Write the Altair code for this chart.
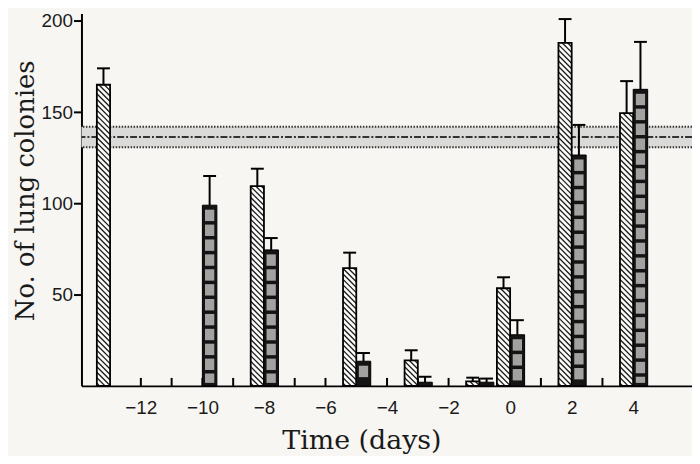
import altair as alt
import pandas as pd

# ---------------- data ----------------
days_a = [-13, -8, -5, -3, -1, 0, 2, 4]           # hatched bars
vals_a = [165, 109.5, 64.5, 14, 2.5, 53.5, 188, 149.5]
errtop_a = [174, 119, 73, 19.5, 4.5, 59.5, 201, 167]

days_b = [-10, -8, -5, -3, -1, 0, 2, 4]           # dark checkered bars
vals_b = [99, 74.5, 13.5, 2, 2, 28, 126.5, 162.5]
errtop_b = [115, 81, 18, 5, 4, 36, 143, 188.5]

band_lower, band_mean, band_upper = 130.7, 136.4, 142.0

x_tick_labels = [-12, -10, -8, -6, -4, -2, 0, 2, 4]
x_minor_ticks = list(range(-12, 5))
y_tick_labels = [50, 100, 150, 200]

# ---------------- layout ----------------
X_MIN, X_MAX = -13.93, 5.91
Y_MAX = 204
W, H = 615, 375
PPD = W / (X_MAX - X_MIN)   # px per day
PPU = H / Y_MAX             # px per unit
A_W, B_W = 0.43, 0.47

NARROW = "Liberation Sans Narrow, Arial Narrow, Liberation Sans, sans-serif"
SERIF = "DejaVu Serif, serif"

xs = alt.Scale(domain=[X_MIN, X_MAX], nice=False, zero=False)
ys = alt.Scale(domain=[0, Y_MAX], nice=False)

# bar tables
bars_a = pd.DataFrame({"x0": [d - A_W for d in days_a], "x1": days_a,
                       "v": vals_a, "e": errtop_a})
bars_b = pd.DataFrame({"x0": days_b, "x1": [d + B_W for d in days_b],
                       "v": vals_b, "e": errtop_b})
err = pd.concat([bars_a, bars_b], ignore_index=True)
err["xc"] = (err["x0"] + err["x1"]) / 2
err["cl"] = err["xc"] - 6.5 / PPD
err["cr"] = err["xc"] + 6.5 / PPD

# hatch lines for the hatched bars
hrows = []
step = 5.5
for x0, x1, v in zip(bars_a["x0"], bars_a["x1"], bars_a["v"]):
    w = (x1 - x0) * PPD
    h = v * PPU
    c = step / 2
    while c < h + w:
        s = max(0.0, c - h)
        e = min(w, c)
        if e > s:
            hrows.append({"hx0": x0 + s / PPD, "hy0": (c - s) / PPU,
                          "hx1": x0 + e / PPD, "hy1": (c - e) / PPU})
        c += step
hatch = pd.DataFrame(hrows)

# gray tiles for the checkered bars
trows = []
for x0, x1, v in zip(bars_b["x0"], bars_b["x1"], bars_b["v"]):
    h = v * PPU
    t = h - 4.5
    while t > 6:
        b = max(3.0, t - 11.5)
        trows.append({"tx0": x0 + 2.6 / PPD, "tx1": x1 - 2.6 / PPD,
                      "ty0": b / PPU, "ty1": t / PPU})
        t -= 15
tiles = pd.DataFrame(trows)

band = pd.DataFrame({"bx0": [X_MIN], "bx1": [X_MAX],
                     "lo": [band_lower], "hi": [band_upper]})
band_lines = pd.DataFrame({"lv": [band_lower, band_upper, band_mean],
                           "kind": ["dot", "dot", "mid"]})
ticks = pd.DataFrame({"t": x_minor_ticks})
ticks["t0"] = 0.0
ticks["t1"] = 8 / PPU

x_axis = alt.Axis(values=x_tick_labels, title="Time (days)", ticks=False,
                  grid=False, domainColor="black", domainWidth=2,
                  labelFont=NARROW, labelFontSize=19, labelColor="#1a1a1a",
                  labelPadding=13, labelFlush=False,
                  titleFont=SERIF, titleFontSize=27, titleFontWeight="normal",
                  titleColor="#1a1a1a", titleX=282, titleY=63,
                  titleBaseline="alphabetic", titleAlign="center")
y_axis = alt.Axis(values=y_tick_labels, title="No. of lung colonies",
                  grid=False, domainColor="black", domainWidth=2,
                  tickColor="black", tickWidth=2, tickSize=8,
                  labelFont=NARROW, labelFontSize=19, labelColor="#1a1a1a",
                  labelPadding=1,
                  titleFont=SERIF, titleFontSize=26, titleFontWeight="normal",
                  titleColor="#1a1a1a", titleAngle=270, titleX=-48, titleY=178,
                  titleBaseline="alphabetic", titleAlign="center")


def X(field):
    return alt.X(field, scale=xs, axis=x_axis)


def Y(field):
    return alt.Y(field, scale=ys, axis=y_axis)


band_rect = alt.Chart(band).mark_rect(fill="#dadad8").encode(
    x=X("bx0:Q"), x2="bx1:Q", y=Y("lo:Q"), y2="hi:Q",
)

band_dot = alt.Chart(band_lines).transform_filter("datum.kind == 'dot'").mark_rule(
    color="#333", strokeWidth=2, strokeDash=[1.5, 1.5]).encode(y=Y("lv:Q"))
band_mid = alt.Chart(band_lines).transform_filter("datum.kind == 'mid'").mark_rule(
    color="#333", strokeWidth=2, strokeDash=[7, 2, 2, 2]).encode(y=Y("lv:Q"))

minor = alt.Chart(ticks).mark_rule(color="black", strokeWidth=2).encode(
    x=X("t:Q"), y=Y("t0:Q"), y2="t1:Q",
)

a_fill = alt.Chart(bars_a).mark_rect(fill="#fbfbf9").encode(
    x=X("x0:Q"), x2="x1:Q", y=Y("v:Q"), y2=alt.datum(0),
)
a_hatch = alt.Chart(hatch).mark_rule(color="#1a1a1a", strokeWidth=1.3).encode(
    x=X("hx0:Q"), x2="hx1:Q", y=Y("hy0:Q"), y2="hy1:Q",
)
a_outline = alt.Chart(bars_a).mark_rect(fillOpacity=0, stroke="black",
                                        strokeWidth=1.8).encode(
    x=X("x0:Q"), x2="x1:Q", y=Y("v:Q"), y2=alt.datum(0),
)
b_fill = alt.Chart(bars_b).mark_rect(fill="#141414", stroke="black",
                                     strokeWidth=1).encode(
    x=X("x0:Q"), x2="x1:Q", y=Y("v:Q"), y2=alt.datum(0),
)
b_tiles = alt.Chart(tiles).mark_rect(fill="#a2a2a0").encode(
    x=X("tx0:Q"), x2="tx1:Q", y=Y("ty0:Q"), y2="ty1:Q",
)
err_v = alt.Chart(err).mark_rule(color="black", strokeWidth=2).encode(
    x=X("xc:Q"), y=Y("v:Q"), y2="e:Q",
)
err_cap = alt.Chart(err).mark_rule(color="black", strokeWidth=2).encode(
    x=X("cl:Q"), x2="cr:Q", y=Y("e:Q"),
)

chart = alt.layer(
    band_rect, band_dot, band_mid, minor,
    a_fill, a_hatch, a_outline, b_fill, b_tiles, err_v, err_cap,
).properties(
    width=W, height=H,
    autosize=alt.AutoSizeParams(type="none"),
    padding={"left": 74, "top": 4, "right": 0, "bottom": 69},
).configure(background="#f7f6f2").configure_view(stroke=None)

chart.save("out.html", embed_options={"renderer": "svg", "actions": False})
